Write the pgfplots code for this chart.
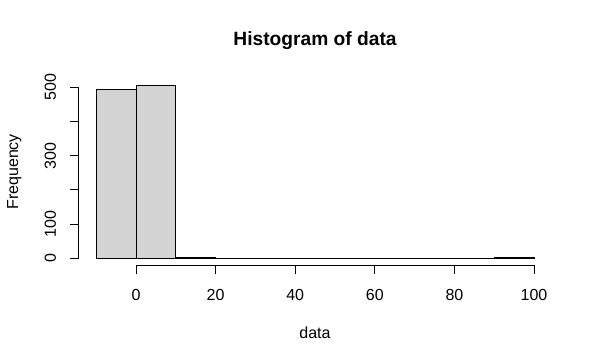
\documentclass[border=0pt]{standalone}
\usepackage{fontspec}
\setmainfont{Liberation Sans}
\usepackage{pgfplots}
\pgfplotsset{compat=1.18}
\definecolor{histfill}{RGB}{211,211,211}
\begin{document}
\fontsize{16bp}{19bp}\selectfont
\begin{tikzpicture}[x=1bp,y=1bp]
\useasboundingbox (0,0) rectangle (592,363);
\begin{axis}[
  at={(78.7bp,97.8bp)}, anchor=south west,
  width=472.8bp, height=186.8bp, scale only axis,
  xmin=-14.4, xmax=104.4, ymin=-20.24, ymax=526.2,
  axis line style={draw=none},
  axis x line*=bottom, axis y line*=left,
  tick align=outside, major tick length=9bp,
  tick style={black, line width=1bp},
  xtick={0,20,40,60,80,100}, xticklabels={0,20,40,60,80,100},
  ytick={0,100,200,300,400,500}, yticklabels={0,100,,300,,500},
  xticklabel shift=26bp, yticklabel shift=13.7bp,
  xticklabel style={anchor=base, font=\fontsize{16bp}{19bp}\selectfont},
  yticklabel style={rotate=90, anchor=base, font=\fontsize{16bp}{19bp}\selectfont},
  clip=false,
]
\addplot[ybar interval, fill=histfill, draw=black, line width=1bp]
  coordinates {(-10,494) (0,506) (10,2) (20,0) (30,0) (40,0) (50,0) (60,0) (70,0) (80,0) (90,3) (100,3)};
\draw[line width=1bp] (axis cs:0,-20.24) -- (axis cs:100,-20.24);
\draw[line width=1bp] (axis cs:-14.4,0) -- (axis cs:-14.4,500);
\end{axis}
\node[anchor=base, font=\fontsize{19.2bp}{22bp}\selectfont\bfseries] at (315,317.3) {Histogram of data};
\node[anchor=base] at (315,24.7) {data};
\node[anchor=base, rotate=90] at (18,191.2) {Frequency};
\end{tikzpicture}
\end{document}
